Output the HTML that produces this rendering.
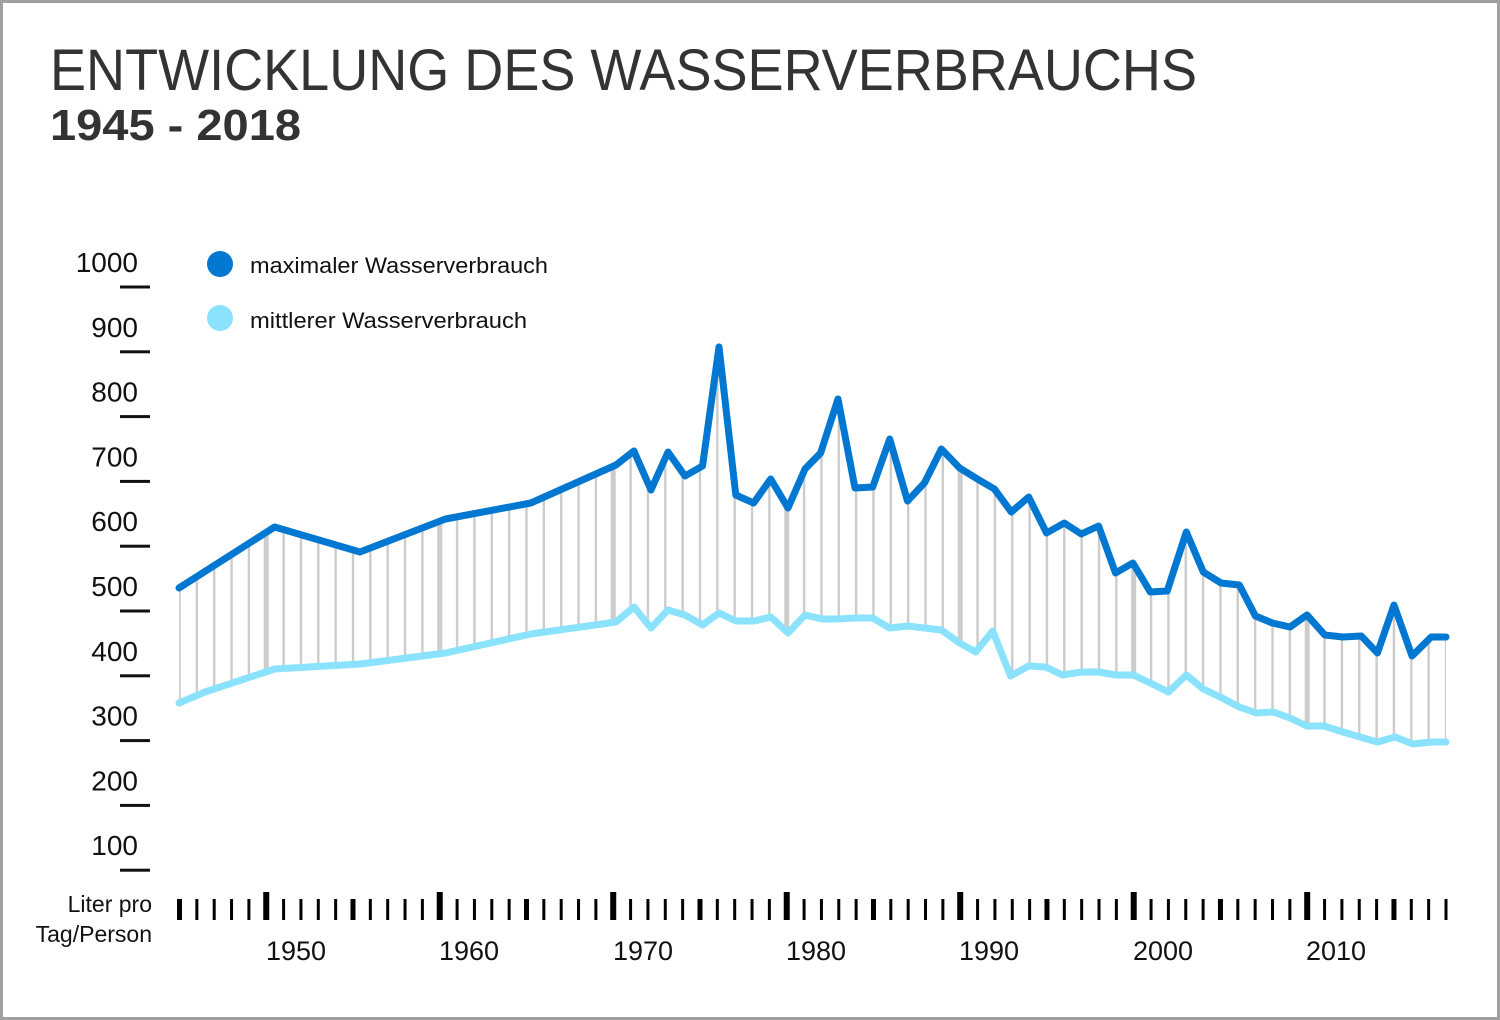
<!DOCTYPE html>
<html><head><meta charset="utf-8">
<style>
html,body{margin:0;padding:0;background:#fff}
#w{position:relative;width:1500px;height:1020px;box-sizing:border-box;border:3px solid #a0a0a0;overflow:hidden}
svg{position:absolute;left:-3px;top:-3px}
text{font-family:"Liberation Sans",sans-serif}
</style></head><body>
<div id="w">
<svg id="s" width="1500" height="1020" viewBox="0 0 1500 1020" xmlns="http://www.w3.org/2000/svg">
<defs><clipPath id="band"><polygon id="bandpoly" points=""/></clipPath></defs>
<text x="50" y="90" font-size="58" fill="#333" textLength="1147" lengthAdjust="spacingAndGlyphs">ENTWICKLUNG DES WASSERVERBRAUCHS</text>
<text x="50" y="140" font-size="44" font-weight="bold" fill="#333" textLength="251" lengthAdjust="spacingAndGlyphs">1945 - 2018</text>
<g id="yax" font-size="28" fill="#111" text-anchor="end"></g>
<circle cx="220" cy="264" r="13" fill="#0077d0"/>
<circle cx="220" cy="318" r="13" fill="#8ae2fd"/>
<text x="250" y="273" font-size="22" fill="#111" textLength="298" lengthAdjust="spacingAndGlyphs">maximaler Wasserverbrauch</text>
<text x="250" y="328" font-size="22" fill="#111" textLength="277" lengthAdjust="spacingAndGlyphs">mittlerer Wasserverbrauch</text>
<g id="grid" clip-path="url(#band)"></g>
<polyline id="light" fill="none" stroke="#8ae2fd" stroke-width="7" stroke-linejoin="round" stroke-linecap="round"/>
<polyline id="dark" fill="none" stroke="#0077d0" stroke-width="7" stroke-linejoin="round" stroke-linecap="round"/>
<g id="xt"></g>
<text x="152" y="912" font-size="23" fill="#111" text-anchor="end">Liter pro</text>
<text x="152" y="942" font-size="23" fill="#111" text-anchor="end">Tag/Person</text>
<g font-size="27" fill="#111" text-anchor="middle">
<text x="296" y="960">1950</text><text x="469" y="960">1960</text><text x="643" y="960">1970</text>
<text x="816" y="960">1980</text><text x="989" y="960">1990</text><text x="1163" y="960">2000</text><text x="1336" y="960">2010</text>
</g>
</svg>
</div>
<script>
var NS="http://www.w3.org/2000/svg";
function el(p,t,a){var e=document.createElementNS(NS,t);for(var k in a)e.setAttribute(k,a[k]);p.appendChild(e);return e;}
var yax=document.getElementById('yax');
for(var i=0;i<10;i++){var v=1000-i*100;var y=287+i*64.8;
 var t=el(yax,'text',{x:138,y:y-15});t.textContent=v;
 el(yax,'rect',{x:120,y:y-1.5,width:30,height:3,fill:'#111'});}
var dark=[[179,588],[274.6,527],[359.9,552],[445.5,519],[530.8,503],[616,465],[633.9,451],[651,490],[668,452],[685,476],[702.5,466],[719,347],[735.8,495],[753.6,503],[770.7,479],[788,508],[805,469],[820.6,453],[838,399],[855,488],[872.7,487],[889.7,439],[907.5,501],[924.4,483],[941.4,449],[959.6,468],[977.4,479],[994.4,489],[1011.3,512],[1028.7,497],[1046.5,533],[1064.3,523],[1081.2,534],[1098.6,526],[1115.5,573],[1132.9,563],[1150.3,592],[1167.2,591],[1186.3,532],[1203.3,572],[1221,583],[1239.3,585],[1255.4,616],[1272.3,623],[1290,627],[1307,615],[1324.8,635],[1343,637],[1361.3,636],[1377.4,653],[1394,605],[1412,656],[1431.2,637],[1446,637]];
var light=[[179,703],[205,692],[274.6,669],[359.9,664],[445.5,653],[530.8,634],[616,622],[634,607],[651,628],[668,610],[685,615],[702.5,625],[719,613],[736,621],[754,621],[771,617],[788,633],[805,615],[822,619],[838,619],[855,618],[872.7,618],[889.7,628],[907.5,626],[924.4,628],[941.4,630],[959.6,643],[975.7,652],[992.7,631],[1010.5,676],[1028.7,666],[1045.6,667],[1062.6,675],[1081.2,672],[1098.6,672],[1116.4,675],[1133.3,675],[1150.3,683],[1168.5,692],[1186.3,675],[1203.3,689],[1220.2,697],[1239.3,707],[1256.2,713],[1273.1,712],[1290,718],[1307,726],[1324,726],[1343,732],[1360,737],[1377.4,742],[1395.2,737],[1413,744],[1431.2,742],[1446,742]];
function pts(a){return a.map(function(p){return p[0]+','+p[1]}).join(' ');}
document.getElementById('dark').setAttribute('points',pts(dark));
document.getElementById('light').setAttribute('points',pts(light));
var poly=dark.concat(light.slice().reverse());
document.getElementById('bandpoly').setAttribute('points',pts(poly));
var g=document.getElementById('grid'),xt=document.getElementById('xt');
for(var i=0;i<74;i++){var x=179.5+i*(1446-179.5)/73;var yr=1945+i;
 var dec=yr%10==0,five=yr%5==0;
 el(g,'rect',{x:x-(dec?2.5:1.2),y:300,width:dec?5:2.4,height:500,fill:'#cccccc'});
 var w=dec?6:(five?5:3);
 el(xt,'rect',{x:x-w/2,y:dec?892:899,width:w,height:dec?28:21,fill:'#000'});}
</script>
</body></html>
